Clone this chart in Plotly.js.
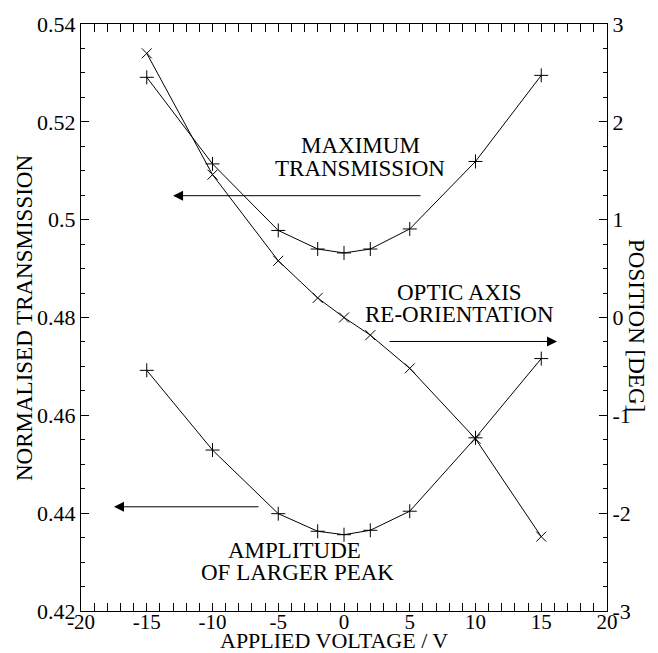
<!DOCTYPE html>
<html>
<head>
<meta charset="utf-8">
<script src="https://cdn.plot.ly/plotly-3.0.1.min.js"></script>
<style>html,body{margin:0;padding:0;background:#fff;}</style>
</head>
<body>
<div id="chart" style="width:658px;height:653px;"></div>
<script>
// ---- data ----
var voltage = [-15, -10, -5, -2, 0, 2, 5, 10, 15];
var maxTransmission = [0.5291, 0.5114, 0.4978, 0.4940, 0.4932, 0.4940, 0.4981, 0.5119, 0.5295];
var amplitudeLargerPeak = [0.4692, 0.4529, 0.4399, 0.4363, 0.4356, 0.4365, 0.4404, 0.4554, 0.4716];
var opticAxisPosition = [2.70, 1.46, 0.58, 0.20, 0.00, -0.18, -0.52, -1.24, -2.24];

var xTickVals = [-20, -15, -10, -5, 0, 5, 10, 15, 20];
var xTickText = ['-20', '-15', '-10', '-5', '0', '5', '10', '15', '20'];
var yLeftTickVals = [0.42, 0.44, 0.46, 0.48, 0.50, 0.52, 0.54];
var yLeftTickText = ['0.42', '0.44', '0.46', '0.48', '0.5', '0.52', '0.54'];
var yRightTickVals = [-3, -2, -1, 0, 1, 2, 3];
var yRightTickText = ['-3', '-2', '-1', '0', '1', '2', '3'];

var FONT = 'Liberation Serif, Times New Roman, serif';

var traces = [
  {x: voltage, y: maxTransmission, type: 'scatter', mode: 'lines+markers', yaxis: 'y',
   line: {color: '#000', width: 1},
   marker: {symbol: 'cross-thin-open', size: 10, line: {color: '#000', width: 1}}},
  {x: voltage, y: amplitudeLargerPeak, type: 'scatter', mode: 'lines+markers', yaxis: 'y',
   line: {color: '#000', width: 1},
   marker: {symbol: 'cross-thin-open', size: 10, line: {color: '#000', width: 1}}},
  {x: voltage, y: opticAxisPosition, type: 'scatter', mode: 'lines+markers', yaxis: 'y2',
   line: {color: '#000', width: 1},
   marker: {symbol: 'x-thin-open', size: 10, line: {color: '#000', width: 1}}},
  // empty trace so the label-only x axis (x2) gets drawn
  {x: [], y: [], type: 'scatter', mode: 'markers', xaxis: 'x2', yaxis: 'y', hoverinfo: 'skip'}
];

function txt(t, x, y, yref) {
  return {text: t, x: x, y: y, xref: 'x', yref: yref || 'y', showarrow: false,
          xanchor: 'center', yanchor: 'middle', font: {family: FONT, size: 23, color: '#000'}};
}
function arrow(x, y, ax, ay, yref) {
  return {text: '', x: x, y: y, ax: ax, ay: ay, xref: 'x', yref: yref, axref: 'x', ayref: yref,
          showarrow: true, arrowhead: 2, arrowsize: 2, arrowwidth: 1, arrowcolor: '#000'};
}

var axisCommon = {
  showgrid: false, zeroline: false, showline: true, linecolor: '#000', linewidth: 1,
  ticks: 'inside', ticklen: 8, tickwidth: 1, tickcolor: '#000',
  tickfont: {family: FONT, size: 22, color: '#000'}
};

var layout = {
  width: 658, height: 653,
  margin: {l: 81, r: 51, t: 24, b: 42},
  paper_bgcolor: '#fff', plot_bgcolor: '#fff',
  showlegend: false,
  xaxis: Object.assign({}, axisCommon, {
    range: [-20, 20], tickmode: 'array', tickvals: xTickVals, ticktext: xTickText,
    mirror: 'allticks', showticklabels: false,
    minor: {tickmode: 'linear', tick0: -20, dtick: 1, ticks: 'inside', ticklen: 4, tickcolor: '#000', tickwidth: 1, showgrid: false}
  }),
  // label-only axis, set slightly higher so the tick numbers sit close to the frame as in the reference
  xaxis2: {
    overlaying: 'x', anchor: 'free', position: 0.006, side: 'bottom',
    range: [-20, 20], tickmode: 'array', tickvals: xTickVals, ticktext: xTickText,
    showline: false, showgrid: false, zeroline: false, ticks: '',
    tickfont: {family: FONT, size: 21, color: '#000'}
  },
  yaxis: Object.assign({}, axisCommon, {
    range: [0.42, 0.54], tickmode: 'array', tickvals: yLeftTickVals, ticktext: yLeftTickText,
    mirror: true,
    minor: {tickmode: 'linear', tick0: 0.42, dtick: 0.005, ticks: 'inside', ticklen: 4, tickcolor: '#000', tickwidth: 1, showgrid: false}
  }),
  yaxis2: Object.assign({}, axisCommon, {
    range: [-3, 3], overlaying: 'y', side: 'right', tickmode: 'array',
    tickvals: yRightTickVals, ticktext: yRightTickText,
    minor: {tickmode: 'linear', tick0: -3, dtick: 0.25, ticks: 'inside', ticklen: 4, tickcolor: '#000', tickwidth: 1, showgrid: false}
  }),
  annotations: [
    txt('MAXIMUM', 1.22, 0.5151),
    txt('TRANSMISSION', 1.22, 0.5104),
    txt('OPTIC AXIS', 8.75, 0.4852),
    txt('RE-ORIENTATION', 8.82, 0.4807),
    txt('AMPLITUDE', -3.73, 0.4323),
    txt('OF LARGER PEAK', -3.57, 0.4278),
    arrow(-13.0, 0.5049, 5.93, 0.5049, 'y'),
    arrow(16.2, -0.245, 3.35, -0.245, 'y2'),
    arrow(-17.49, 0.4413, -6.39, 0.4413, 'y'),
    {text: 'APPLIED VOLTAGE / V', xref: 'paper', yref: 'paper', x: 0.481, y: -0.0511,
     showarrow: false, xanchor: 'center', yanchor: 'middle', font: {family: FONT, size: 22, color: '#000'}},
    {text: 'NORMALISED TRANSMISSION', xref: 'paper', yref: 'paper', x: -0.1084, y: 0.4991,
     textangle: -90, showarrow: false, xanchor: 'center', yanchor: 'middle', font: {family: FONT, size: 23, color: '#000'}},
    {text: 'POSITION [DEG]', xref: 'paper', yref: 'paper', x: 1.057, y: 0.4855,
     textangle: 90, showarrow: false, xanchor: 'center', yanchor: 'middle', font: {family: FONT, size: 23, color: '#000'}}
  ]
};

Plotly.newPlot('chart', traces, layout, {displayModeBar: false, staticPlot: true});
</script>
</body>
</html>
